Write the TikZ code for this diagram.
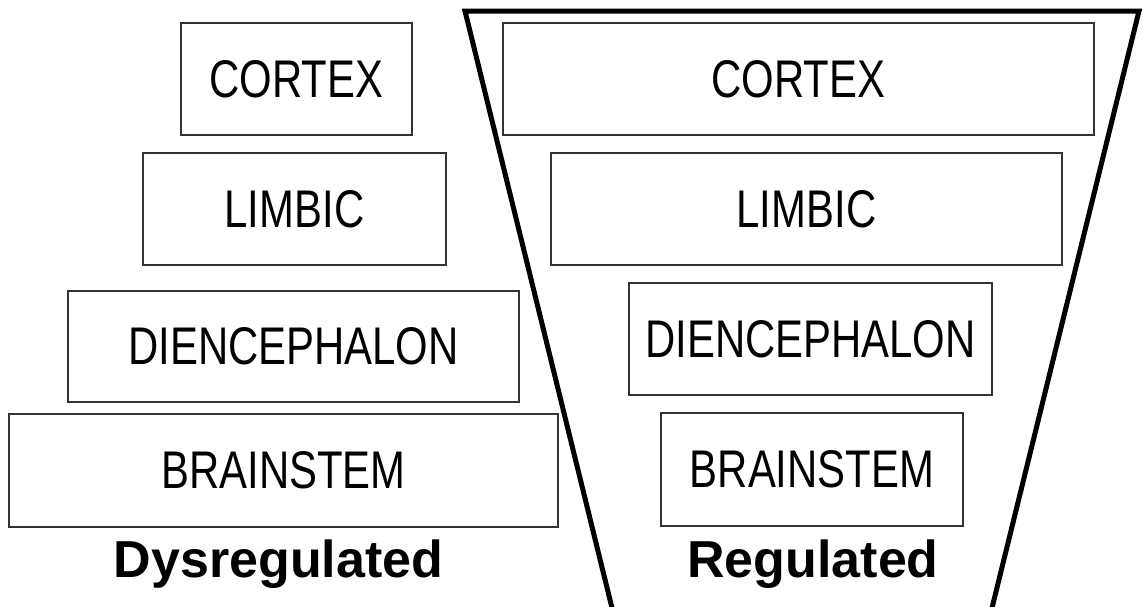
\documentclass[tikz,border=0pt]{standalone}
\usepackage{fontspec}
\setmainfont{Liberation Sans}
\newfontfamily\boxfont[FakeStretch=0.79]{Liberation Sans}

\tikzset{
  layer/.style={draw=black!80, line width=1.3pt, rectangle, inner sep=0pt,
    font=\boxfont\fontsize{53}{60}\selectfont},
  caption/.style={font=\bfseries\fontsize{52}{62}\selectfont, anchor=base, inner sep=0pt},
  funnel/.style={line width=5pt, line join=miter}
}

\begin{document}
\begin{tikzpicture}[x=1pt, y=-1pt]
  \useasboundingbox (0,0) rectangle (1143,606);

  % stacked layers, widest at the bottom
  \node[layer, minimum width=231pt, minimum height=112pt] (dcortex) at (296.5,79) {CORTEX};
  \node[layer, minimum width=303pt, minimum height=112pt] (dlimbic) at (294.5,209) {LIMBIC};
  \node[layer, minimum width=451pt, minimum height=111pt] (ddien)   at (293.5,346.5) {DIENCEPHALON};
  \node[layer, minimum width=549pt, minimum height=113pt] (dbrain)  at (283.5,470.5) {BRAINSTEM};
  \node[caption] (dlabel) at (278.5,577) {Dysregulated};

  % open funnel around the inverted stack
  \coordinate (fbl) at (613,612);
  \coordinate (ftl) at (465,11);
  \coordinate (ftr) at (1139,11);
  \coordinate (fbr) at (991,612);
  \draw[funnel] (fbl) -- (ftl) -- (ftr) -- (fbr);

  % inverted layers, widest at the top
  \node[layer, minimum width=591pt, minimum height=112pt] (rcortex) at (798.5,79) {CORTEX};
  \node[layer, minimum width=511pt, minimum height=112pt] (rlimbic) at (806.5,209) {LIMBIC};
  \node[layer, minimum width=363pt, minimum height=112pt] (rdien)   at (810.5,339) {DIENCEPHALON};
  \node[layer, minimum width=302pt, minimum height=113pt] (rbrain)  at (812,469.5) {BRAINSTEM};
  \node[caption] (rlabel) at (813,577) {Regulated};
\end{tikzpicture}
\end{document}
